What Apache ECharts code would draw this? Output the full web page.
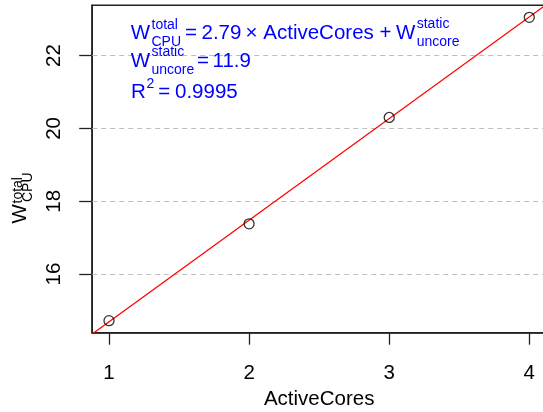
<!DOCTYPE html>
<html>
<head>
<meta charset="utf-8">
<script src="https://cdn.jsdelivr.net/npm/echarts@6/dist/echarts.min.js"></script>
<style>
  html, body { margin: 0; padding: 0; background: #fff; }
  #chart { width: 543px; height: 412px; }
</style>
</head>
<body>
<div id="chart"></div>
<script>
// Measured CPU power against number of active cores
const activeCores = [1, 2, 3, 4];
const cpuPowerTotal = [14.72, 17.38, 20.30, 23.05];

// Linear fit reported in the annotation
const fitSlope = 2.79;
const fitIntercept = 11.9;
const fitR2 = 0.9995;

// Axis ticks
const xTicks = [1, 2, 3, 4];
const yTicks = [16, 18, 20, 22];

// Axis extents (data range padded by 4% on each side)
const xMin = 0.88, xMax = 4.12;
const yMin = 14.39, yMax = 23.38;

const FONT = '"Liberation Sans", Arial, Helvetica, sans-serif';
const BLUE = '#0000ff';
const BIG = 20.5;
const SMALL = 14;

const points = activeCores.map((x, i) => [x, cpuPowerTotal[i]]);
const fitLine = [xMin, xMax].map(x => [x, fitIntercept + fitSlope * x]);

function txt(text, x, y, size, extra) {
  return Object.assign({
    type: 'text', x: x, y: y, z: 100,
    style: {
      text: text, fill: BLUE, font: size + 'px ' + FONT,
      align: 'left', verticalAlign: 'middle'
    }
  }, extra || {});
}

function ytxt(text, x, y, size) {
  return {
    type: 'text', x: x, y: y, rotation: Math.PI / 2, z: 100,
    style: {
      text: text, fill: '#000', font: size + 'px ' + FONT,
      align: 'left', verticalAlign: 'middle'
    }
  };
}

const chart = echarts.init(document.getElementById('chart'), null, { renderer: 'canvas' });

chart.setOption({
  animation: false,
  backgroundColor: '#fff',
  grid: {
    left: 92.2, right: -3.1, top: 5.3, bottom: 79.3,
    containLabel: false, outerBoundsMode: 'none',
    show: true, borderColor: '#222', borderWidth: 1.5, backgroundColor: 'transparent'
  },
  xAxis: {
    type: 'value', min: xMin, max: xMax,
    name: 'ActiveCores', nameLocation: 'middle', nameGap: 55,
    nameTextStyle: { color: '#000', fontSize: BIG, fontFamily: FONT },
    axisLine: { show: true, onZero: false, lineStyle: { color: '#222', width: 1.5 } },
    axisTick: { show: true, customValues: xTicks, length: 12, lineStyle: { color: '#222', width: 1.3 } },
    axisLabel: { customValues: xTicks, color: '#000', fontSize: BIG, fontFamily: FONT, margin: 30 },
    splitLine: { show: false }
  },
  yAxis: {
    type: 'value', min: yMin, max: yMax,
    axisLine: { show: true, onZero: false, lineStyle: { color: '#222', width: 1.5 } },
    axisTick: { show: true, customValues: yTicks, length: 13, lineStyle: { color: '#222', width: 1.3 } },
    axisLabel: { customValues: yTicks, rotate: 90, color: '#000', fontSize: BIG, fontFamily: FONT, margin: 27 },
    splitLine: { show: false }
  },
  series: [
    {
      type: 'line',
      data: fitLine,
      showSymbol: false,
      clip: true,
      lineStyle: { color: '#ff0000', width: 1.3 },
      z: 3,
      markLine: {
        silent: true,
        symbol: 'none',
        label: { show: false },
        lineStyle: { color: '#bebebe', type: [5, 4], width: 1.2 },
        data: yTicks.map(v => ({ yAxis: v })),
        z: 1
      }
    },
    {
      type: 'scatter',
      data: points,
      symbol: 'circle',
      symbolSize: 10,
      itemStyle: { color: 'rgba(0,0,0,0)', borderColor: '#000', borderWidth: 1.3 },
      z: 4
    }
  ],
  graphic: [
    // W_CPU^total = 2.79 × ActiveCores + W_uncore^static
    txt('W', 130.7, 33.3, BIG),
    txt('total', 151.5, 25.5, SMALL),
    txt('CPU', 151.5, 42.3, SMALL),
    txt('=', 185, 33.3, BIG),
    txt(fitSlope.toFixed(2), 201.5, 33.3, BIG),
    txt('×', 245.5, 33.3, BIG),
    txt('ActiveCores', 263.3, 33.3, BIG),
    txt('+', 379.5, 33.3, BIG),
    txt('W', 396, 33.3, BIG),
    txt('static', 416.7, 24.3, SMALL),
    txt('uncore', 416.7, 42.5, SMALL),
    // W_uncore^static = 11.9
    txt('W', 130.7, 61.5, BIG),
    txt('static', 151.5, 52.5, SMALL),
    txt('uncore', 151.5, 70.5, SMALL),
    txt('=', 197, 61.5, BIG),
    txt(fitIntercept.toFixed(1), 212.5, 61.5, BIG),
    // R^2 = 0.9995
    txt('R', 131, 92.2, BIG),
    txt('2', 146.5, 84.5, SMALL),
    txt('=', 158.3, 92.2, BIG),
    txt(fitR2.toFixed(4), 175, 92.2, BIG),
    // y-axis title W_CPU^total, reading upward
    ytxt('W', 20.8, 223.5, BIG),
    ytxt('total', 18.5, 203.5, SMALL),
    ytxt('CPU', 28.5, 202, SMALL)
  ]
});
</script>
</body>
</html>
